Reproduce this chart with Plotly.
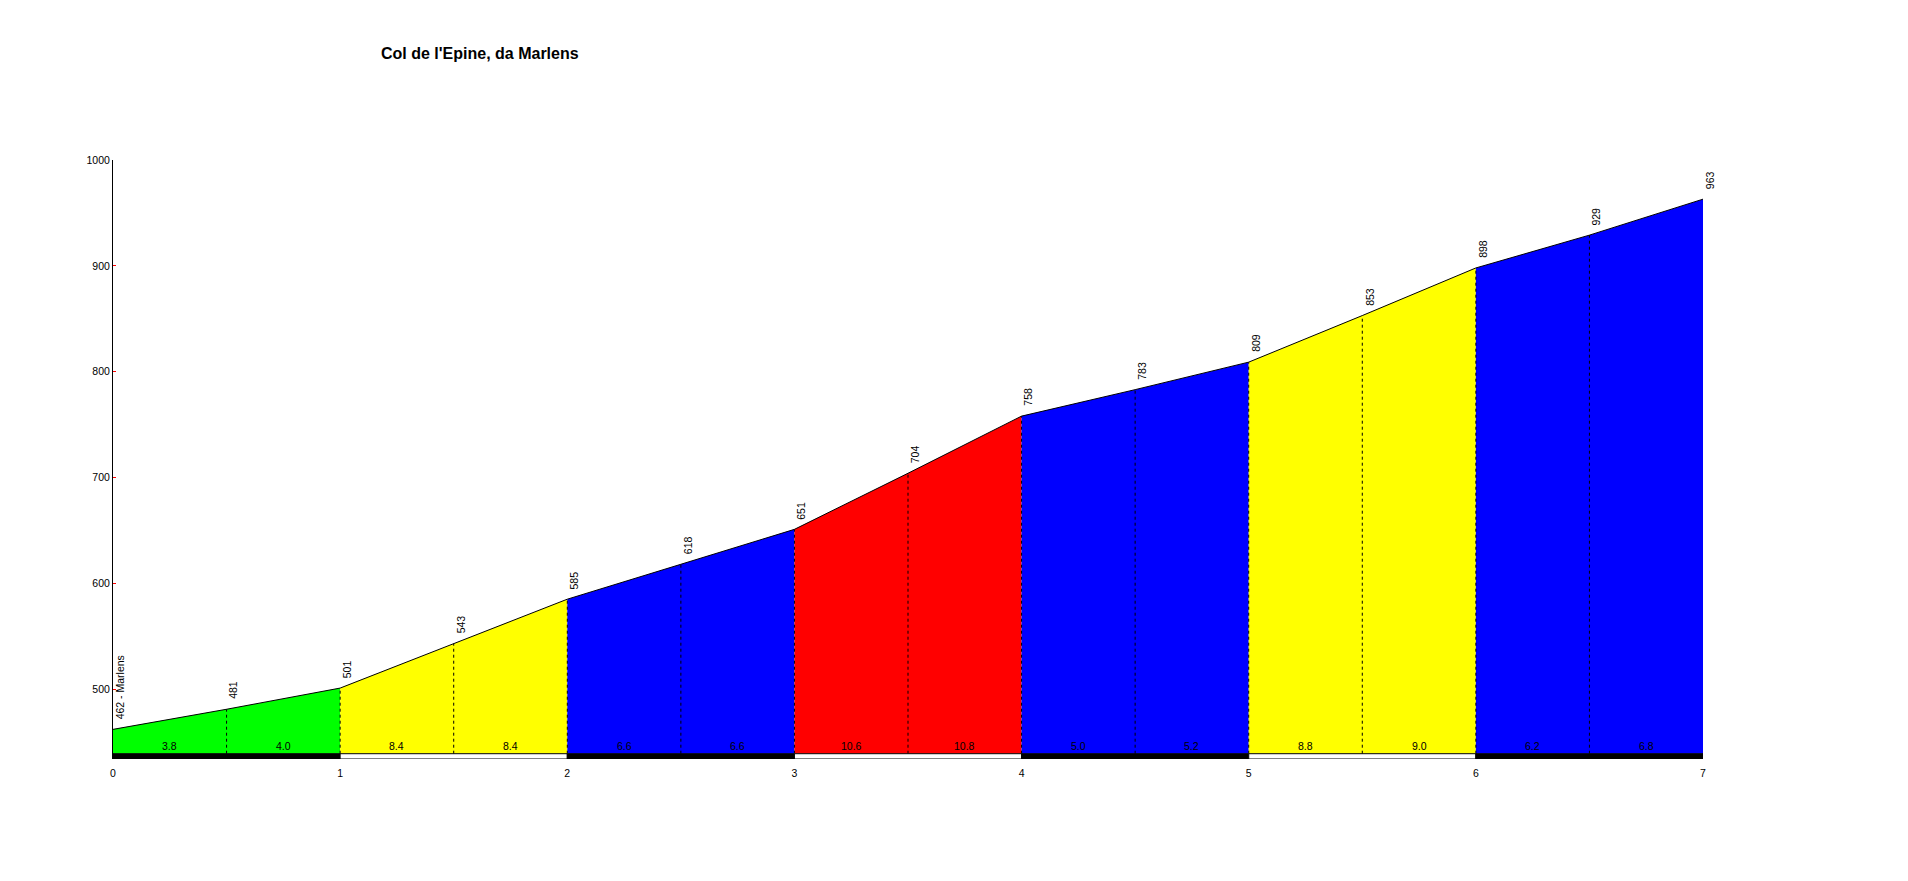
import plotly.graph_objects as go

# ---- data ----
km = [0, 0.5, 1, 1.5, 2, 2.5, 3, 3.5, 4, 4.5, 5, 5.5, 6, 6.5, 7]
elev = [462, 481, 501, 543, 585, 618, 651, 704, 758, 783, 809, 853, 898, 929, 963]
grad = ["3.8", "4.0", "8.4", "8.4", "6.6", "6.6", "10.6", "10.8",
        "5.0", "5.2", "8.8", "9.0", "6.2", "6.8"]
km_colors = ["#00ff00", "#ffff00", "#0000ff", "#ff0000", "#0000ff", "#ffff00", "#0000ff"]
bar_colors = ["black", "white", "black", "white", "black", "white", "black"]
start_name = "Marlens"
title_text = "Col de l'Epine, da Marlens"
y_ticks = [500, 600, 700, 800, 900, 1000]
x_ticks = [0, 1, 2, 3, 4, 5, 6, 7]
BASE = 439
BAR_BOTTOM = 434
Y_TOP = 1000

FONT = "Liberation Sans, Arial, sans-serif"

W, H = 1892, 865
ML, MR, MT, MB = 105, 197, 152, 114
PW, PH = W - ML - MR, H - MT - MB

fig = go.Figure()

# coloured km blocks
for k in range(len(km_colors)):
    i0 = 2 * k
    xs = [km[i0], km[i0], km[i0 + 1], km[i0 + 2], km[i0 + 2]]
    ys = [BASE, elev[i0], elev[i0 + 1], elev[i0 + 2], BASE]
    fig.add_trace(go.Scatter(x=xs, y=ys, mode="lines", fill="toself",
                             fillcolor=km_colors[k], line=dict(width=0),
                             hoverinfo="skip", showlegend=False))

# profile outline
fig.add_trace(go.Scatter(x=km, y=elev, mode="lines",
                         line=dict(color="black", width=1),
                         hoverinfo="skip", showlegend=False))

shapes = []
# dashed verticals at each half km
for x, e in zip(km[1:-1], elev[1:-1]):
    shapes.append(dict(type="line", xref="x", yref="y", x0=x, x1=x, y0=BASE, y1=e,
                       line=dict(color="black", width=1, dash="3px,3px")))
# km bar at the bottom
for k, c in enumerate(bar_colors):
    shapes.append(dict(type="rect", xref="x", yref="y", x0=x_ticks[k], x1=x_ticks[k + 1],
                       y0=BAR_BOTTOM, y1=BASE, fillcolor=c,
                       line=dict(color="black", width=1)))

annotations = []
# elevation labels
for i, (x, e) in enumerate(zip(km, elev)):
    txt = f"{e} - {start_name}" if i == 0 else str(e)
    annotations.append(dict(x=x, y=e, xref="x", yref="y", text=txt, textangle=-90,
                            showarrow=False, xanchor="left", yanchor="bottom",
                            xshift=-1, yshift=8,
                            font=dict(family=FONT, size=10.5, color="black")))
# gradient labels
for j, g in enumerate(grad):
    xm = (km[j] + km[j + 1]) / 2
    annotations.append(dict(x=xm, y=BASE, xref="x", yref="y", text=g,
                            showarrow=False, xanchor="center", yanchor="bottom",
                            yshift=0,
                            font=dict(family=FONT, size=10.5, color="black")))
# title (figure coords 472, 45 -> paper coords)
annotations.append(dict(x=(472 - ML) / PW, y=1 + (MT - 45) / PH,
                        xref="paper", yref="paper",
                        text=f"<b>{title_text}</b>", showarrow=False,
                        xanchor="center", yanchor="middle",
                        font=dict(family=FONT, size=16, color="black")))

fig.update_layout(
    width=W, height=H,
    margin=dict(l=ML, r=MR, t=MT, b=MB),
    paper_bgcolor="white", plot_bgcolor="white",
    shapes=shapes, annotations=annotations,
    showlegend=False,
    font=dict(family=FONT, size=10.5, color="black"),
    xaxis=dict(range=[0, 7], tickvals=x_ticks, ticks="", showline=False,
               showgrid=False, zeroline=False, fixedrange=True,
               ticklabelstandoff=6,
               tickfont=dict(family=FONT, size=10.5, color="black")),
    yaxis=dict(range=[BAR_BOTTOM, Y_TOP], tickvals=y_ticks, ticks="inside",
               ticklen=3, tickcolor="red", tickwidth=1, showline=True,
               linecolor="black", linewidth=1, showgrid=False, zeroline=False,
               fixedrange=True,
               tickfont=dict(family=FONT, size=10.5, color="black")),
)

fig.write_html("out.html")
